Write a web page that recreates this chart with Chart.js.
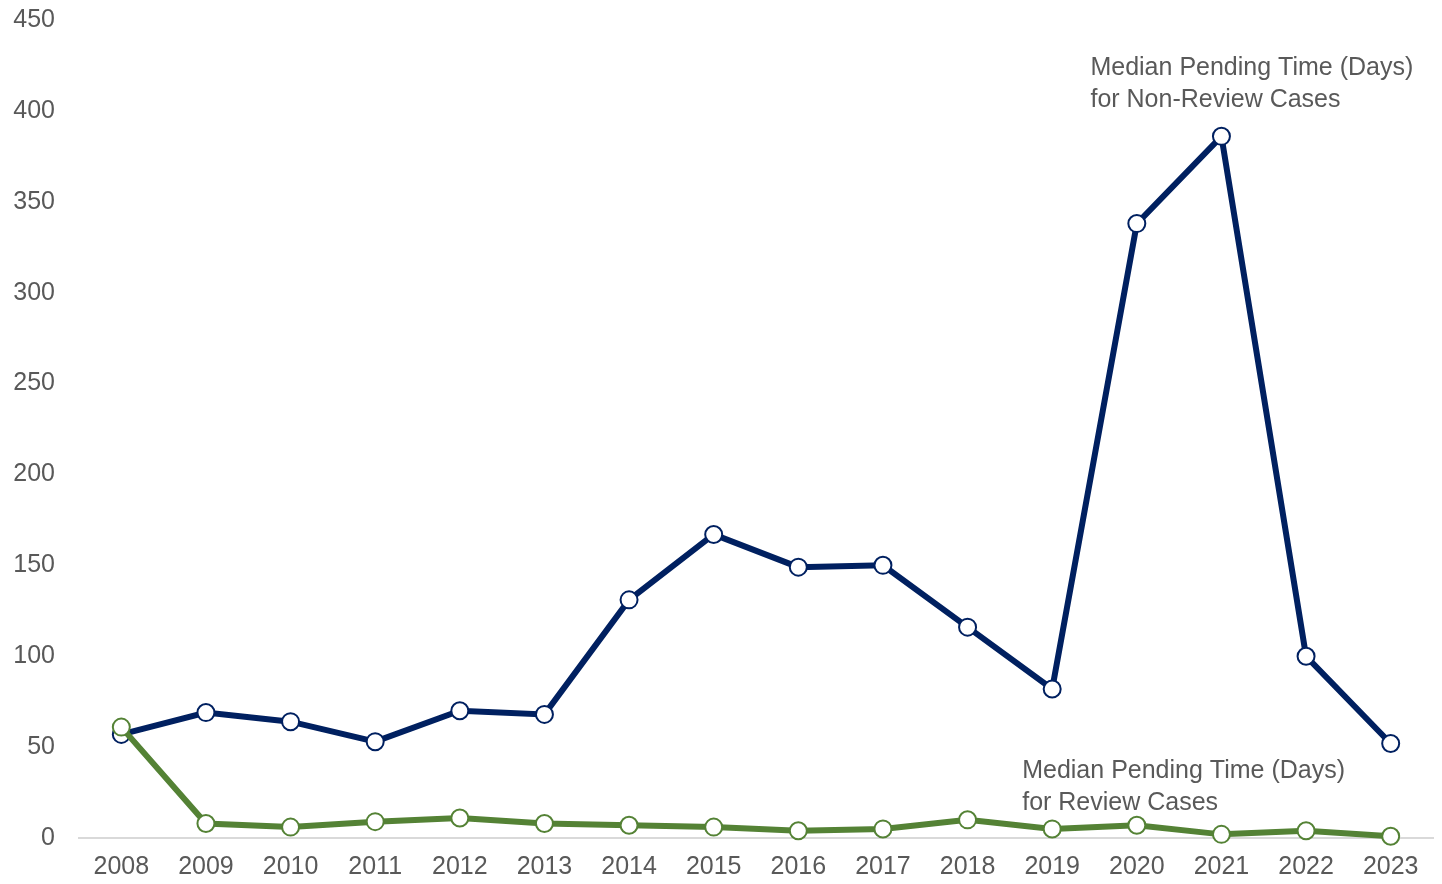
<!DOCTYPE html>
<html>
<head>
<meta charset="utf-8">
<script src="https://cdn.jsdelivr.net/npm/chart.js@4"></script>
<style>
  html, body { margin: 0; padding: 0; background: #fff; }
  #wrap { width: 1442px; height: 884px; }
</style>
</head>
<body>
<div id="wrap"><canvas id="chart" width="1442" height="884"></canvas></div>
<script>
const years = ['2008','2009','2010','2011','2012','2013','2014','2015','2016','2017','2018','2019','2020','2021','2022','2023'];
const nonReviewDays = [57, 69, 64, 53, 70, 68, 131, 167, 149, 150, 116, 82, 338, 386, 100, 52];
const reviewDays = [61, 8, 6, 9, 11, 8, 7, 6, 4, 5, 10, 5, 7, 2, 4, 1];
const yTicks = [0, 50, 100, 150, 200, 250, 300, 350, 400, 450];

const NAVY = '#002060';
const GREEN = '#548235';
const GREY = '#595959';
const FONT = "'Liberation Sans', Arial, sans-serif";

// series labels drawn next to the lines
const seriesLabels = {
  id: 'seriesLabels',
  afterDatasetsDraw(chart) {
    const { ctx, scales: { x, y } } = chart;
    ctx.save();
    ctx.font = '25px ' + FONT;
    ctx.fillStyle = GREY;
    ctx.textBaseline = 'top';
    ctx.textAlign = 'left';
    const nx = x.getPixelForValue(13) - 131;
    const ny = y.getPixelForValue(450) + 36;
    ctx.fillText('Median Pending Time (Days)', nx, ny);
    ctx.fillText('for Non-Review Cases', nx, ny + 32);
    const gx = x.getPixelForValue(11) - 30;
    const gy = y.getPixelForValue(0) - 79;
    ctx.fillText('Median Pending Time (Days)', gx, gy);
    ctx.fillText('for Review Cases', gx, gy + 32);
    ctx.restore();
  }
};

const lineStyle = (color) => ({
  borderColor: color,
  backgroundColor: color,
  borderWidth: 6,
  pointRadius: 8.5,
  pointHoverRadius: 8.5,
  pointBackgroundColor: '#fff',
  pointBorderColor: color,
  pointBorderWidth: 2,
  tension: 0,
  fill: false,
  clip: false
});

new Chart(document.getElementById('chart').getContext('2d'), {
  type: 'line',
  data: {
    labels: years,
    datasets: [
      { label: 'Non-Review', data: nonReviewDays, order: 1, ...lineStyle(NAVY) },
      { label: 'Review', data: reviewDays, order: 0, ...lineStyle(GREEN) }
    ]
  },
  options: {
    responsive: false,
    animation: false,
    layout: { autoPadding: false, padding: { top: 20, right: 9, bottom: 0, left: 0 } },
    plugins: {
      legend: { display: false },
      tooltip: { enabled: false }
    },
    scales: {
      x: {
        offset: true,
        afterFit(scale) { scale.height = 46; },
        grid: { display: false, drawTicks: false },
        border: { display: true, color: '#d9d9d9', width: 2 },
        ticks: { color: GREY, font: { family: FONT, size: 25 }, padding: 14, maxRotation: 0 }
      },
      y: {
        min: 0,
        max: 450,
        afterFit(scale) {
          scale.width = 79;
          scale.paddingTop = 0;
          scale.paddingBottom = 0;
        },
        afterBuildTicks(scale) { scale.ticks = yTicks.map(v => ({ value: v })); },
        grid: { display: false, drawTicks: false },
        border: { display: false },
        ticks: { color: GREY, font: { family: FONT, size: 25 }, padding: 24 }
      }
    }
  },
  plugins: [seriesLabels]
});
</script>
</body>
</html>
